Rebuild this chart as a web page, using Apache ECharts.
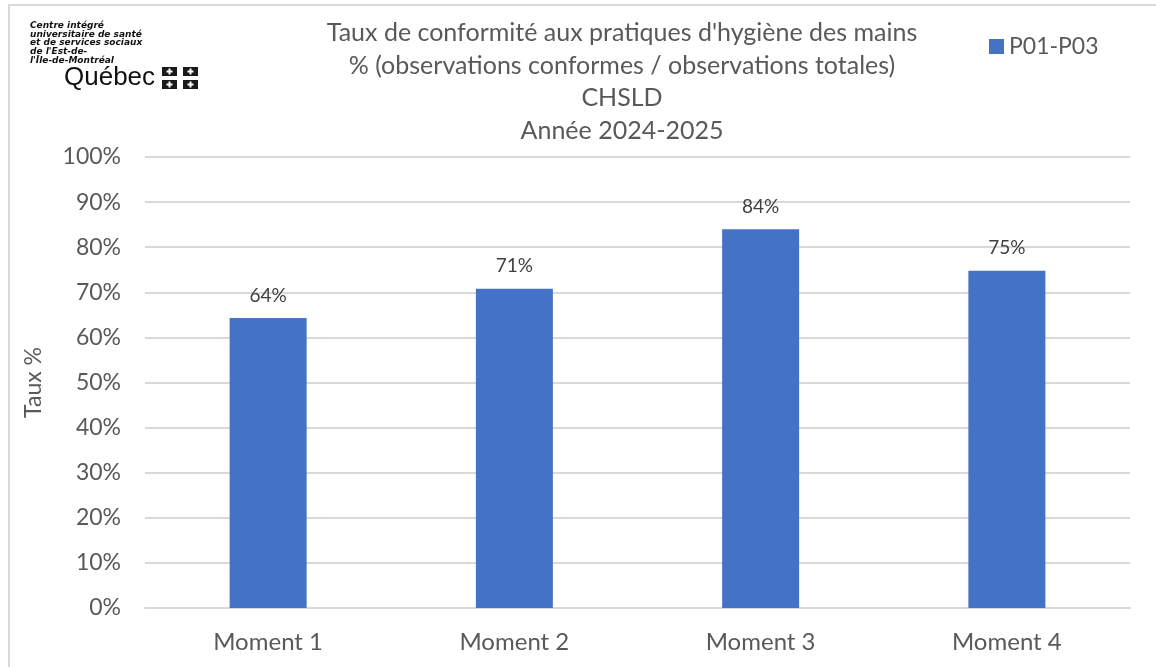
<!DOCTYPE html>
<html>
<head>
<meta charset="utf-8">
<script src="https://cdn.jsdelivr.net/npm/echarts@6/dist/echarts.min.js"></script>
<style>
html, body { margin: 0; padding: 0; background: #fff; }
#chart { width: 1156px; height: 667px; }
</style>
</head>
<body>
<div id="chart"></div>
<script>
// données
var categories = ['Moment 1', 'Moment 2', 'Moment 3', 'Moment 4'];
var tauxP01P03 = [64.3, 70.8, 84.0, 74.8];
var labelsP01P03 = ['64%', '71%', '84%', '75%'];
var yTicks = [0, 10, 20, 30, 40, 50, 60, 70, 80, 90, 100];

var fontFam = 'Lato, "Open Sans", sans-serif';
var gris = '#595959';

var myChart = echarts.init(document.getElementById('chart'));

// petit drapeau du logo
function flag(x, y){
	return {
		type: 'group', left: x, top: y,
		children: [
			{ type: 'rect', shape: { x: 0, y: 0, width: 15, height: 9 }, style: { fill: '#1a1a1a' } },
			{ type: 'rect', shape: { x: 6.5, y: 1.5, width: 2, height: 6 }, style: { fill: '#fff' } },
			{ type: 'rect', shape: { x: 4.5, y: 3.5, width: 6, height: 2 }, style: { fill: '#fff' } }
		]
	};
}

var option = {
	backgroundColor: '#fff',
	animation: false,
	title: {
		text: "Taux de conformité aux pratiques d'hygiène des mains\n% (observations conformes / observations totales)\nCHSLD\nAnnée 2024-2025",
		left: 617,
		top: 12,
		textAlign: 'center',
		textStyle: {
			fontFamily: fontFam,
			fontSize: 25,
			fontWeight: 'normal',
			color: gris,
			lineHeight: 32.5
		}
	},
	legend: {
		data: ['P01-P03'],
		left: 984,
		top: 30,
		itemWidth: 15,
		itemHeight: 15,
		itemGap: 6,
		icon: 'rect',
		textStyle: { fontFamily: fontFam, fontSize: 23, color: gris }
	},
	grid: {
		left: 145,
		right: 26,
		top: 157,
		bottom: 59,
		containLabel: false
	},
	xAxis: {
		type: 'category',
		data: categories,
		axisLine: { lineStyle: { color: '#d9d9d9', width: 2 } },
		axisTick: { show: false },
		axisLabel: { fontFamily: fontFam, fontSize: 24, color: gris, margin: 22 }
	},
	yAxis: {
		type: 'value',
		min: yTicks[0],
		max: yTicks[yTicks.length - 1],
		interval: 10,
		name: 'Taux %',
		nameLocation: 'middle',
		nameGap: 100,
		nameTextStyle: { fontFamily: fontFam, fontSize: 23, color: gris },
		axisLine: { show: false },
		axisTick: { show: false },
		axisLabel: {
			fontFamily: fontFam, fontSize: 23, color: gris, margin: 24,
			formatter: function(v){ return v + '%'; }
		},
		splitLine: { lineStyle: { color: '#d9d9d9', width: 2 } }
	},
	series: [
		{
			name: 'P01-P03',
			type: 'bar',
			barWidth: 77,
			data: tauxP01P03,
			itemStyle: { color: '#4472c4' },
			label: {
				show: true,
				position: 'top',
				distance: 13,
				fontFamily: fontFam,
				fontSize: 19,
				color: '#404040',
				formatter: function(p){ return labelsP01P03[p.dataIndex]; }
			}
		}
	],
	graphic: [
		{ type: 'rect', shape: { x: 9, y: 5, width: 1160, height: 700 }, style: { fill: 'none', stroke: '#d9d9d9', lineWidth: 2 }, silent: true },
		{
			type: 'text', left: 30, top: 21,
			style: {
				text: "Centre intégré\nuniversitaire de santé\net de services sociaux\nde l'Est-de-\nl'Île-de-Montréal",
				font: 'italic bold 9px "DejaVu Sans", sans-serif',
				lineHeight: 8.7,
				fill: '#111'
			}
		},
		{
			type: 'text', left: 64, top: 65,
			style: { text: 'Québec', font: '26px "Liberation Sans", sans-serif', fill: '#111' }
		},
		flag(162, 67),
		flag(183, 67),
		flag(162, 80),
		flag(183, 80)
	]
};

myChart.setOption(option);
</script>
</body>
</html>
